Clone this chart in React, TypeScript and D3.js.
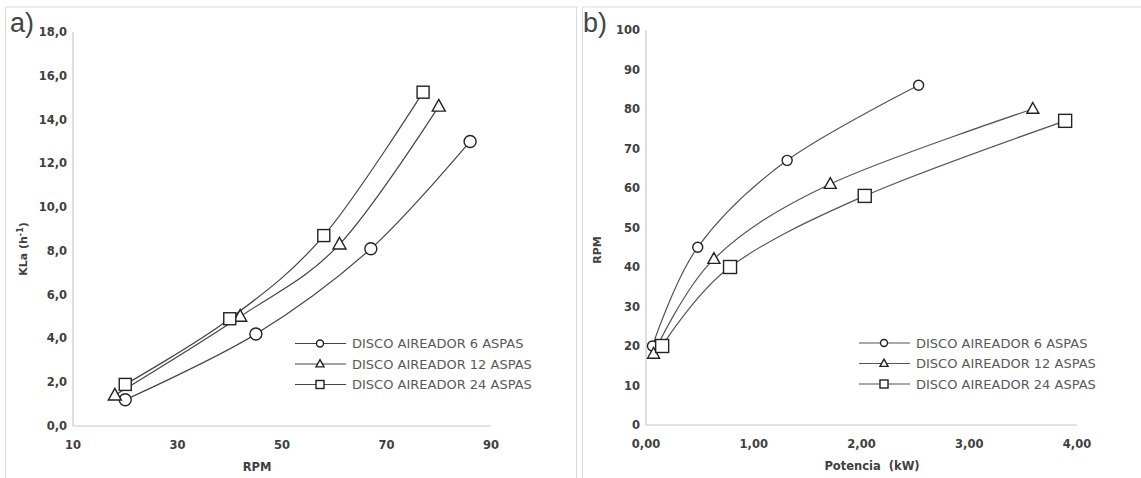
import React from "react";
import * as d3 from "d3";

// Panel a: KLa vs RPM
const seriesNames = ["DISCO AIREADOR 6 ASPAS", "DISCO AIREADOR 12 ASPAS", "DISCO AIREADOR 24 ASPAS"];
const markerTypes = ["circle", "triangle", "square"];

const rpm6 = [20, 45, 67, 86];
const kla6 = [1.2, 4.2, 8.1, 13.0];
const rpm12 = [18, 42, 61, 80];
const kla12 = [1.4, 5.0, 8.3, 14.6];
const rpm24 = [20, 40, 58, 77];
const kla24 = [1.9, 4.9, 8.7, 15.25];

// Panel b: RPM vs Potencia
const pot6 = [0.06, 0.48, 1.31, 2.53];
const pot12 = [0.07, 0.63, 1.71, 3.59];
const pot24 = [0.15, 0.78, 2.03, 3.89];

const aXTicks = [10, 30, 50, 70, 90];
const aYTicks = [0, 2, 4, 6, 8, 10, 12, 14, 16, 18];
const bXTicks = [0, 1, 2, 3, 4];
const bYTicks = [0, 10, 20, 30, 40, 50, 60, 70, 80, 90, 100];

const fmt1 = (v: number) => v.toFixed(1).replace(".", ",");
const fmt2 = (v: number) => v.toFixed(2).replace(".", ",");

function Marker({ type, x, y, s, stroke }: { type: string; x: number; y: number; s: number; stroke: string }) {
  if (type === "circle") return <circle cx={x} cy={y} r={s / 2} fill="#fff" stroke={stroke} strokeWidth={1.4} />;
  if (type === "square")
    return <rect x={x - s / 2} y={y - s / 2} width={s} height={s} fill="#fff" stroke={stroke} strokeWidth={1.4} />;
  const h = s * 0.9;
  const p = `M${x},${y - h * 0.6} L${x + s / 2},${y + h * 0.4} L${x - s / 2},${y + h * 0.4} Z`;
  return <path d={p} fill="#fff" stroke={stroke} strokeWidth={1.4} />;
}

type Panel = {
  x: d3.ScaleLinear<number, number>;
  y: d3.ScaleLinear<number, number>;
  xTicks: number[];
  yTicks: number[];
  xFmt: (v: number) => string;
  yFmt: (v: number) => string;
  series: { xs: number[]; ys: number[] }[];
  markerSizes: number[];
  lineColor: string;
  legendX: number;
  legendY: number;
  legendMarker: number[];
  xTitle: string;
  yTitle: React.ReactNode;
  xTitleX: number;
  xTitleY: number;
  yTitleX: number;
  yTitleY: number;
  label: string;
  labelX: number;
  frameX: number;
  frameW: number;
};

function ChartPanel({ p }: { p: Panel }) {
  const [x0, x1] = p.x.range();
  const [y0, y1] = p.y.range();
  const line = d3
    .line<[number, number]>()
    .x((d) => p.x(d[0]))
    .y((d) => p.y(d[1]))
    .curve(d3.curveCatmullRom.alpha(0));
  const tickFont = { fontFamily: "DejaVu Sans", fontWeight: 700, fontSize: 11.5, fill: "#404040" };
  return (
    <g>
      <rect x={p.frameX} y={7} width={p.frameW} height={480} fill="none" stroke="#d9d9d9" strokeWidth={1} />
      <text x={p.labelX} y={32} style={{ fontFamily: "Liberation Sans", fontSize: 27, fontWeight: 300, fill: "#444" }}>
        {p.label}
      </text>
      <line x1={x0} x2={x1} y1={y0} y2={y0} stroke="#c8c8c8" strokeWidth={1.2} />
      <line x1={x0} x2={x0} y1={y0} y2={y1} stroke="#c8c8c8" strokeWidth={1.2} />
      {p.yTicks.map((t) => (
        <text key={"y" + t} x={x0 - 6} y={p.y(t)} dy="0.35em" textAnchor="end" style={tickFont}>
          {p.yFmt(t)}
        </text>
      ))}
      {p.xTicks.map((t) => (
        <text key={"x" + t} x={p.x(t)} y={y0 + 19} dy="0.35em" textAnchor="middle" style={tickFont}>
          {p.xFmt(t)}
        </text>
      ))}
      <text x={p.xTitleX} y={p.xTitleY} dy="0.35em" textAnchor="middle" style={{ ...tickFont, fontSize: 11.5 }}>
        {p.xTitle}
      </text>
      <text
        transform={`translate(${p.yTitleX},${p.yTitleY}) rotate(-90)`}
        dy="0.35em"
        textAnchor="middle"
        style={{ ...tickFont, fontSize: 11 }}
      >
        {p.yTitle}
      </text>
      {p.series.map((s, i) => (
        <path
          key={"l" + i}
          d={line(s.xs.map((v, j) => [v, s.ys[j]] as [number, number])) || ""}
          fill="none"
          stroke={p.lineColor}
          strokeWidth={1.2}
        />
      ))}
      {p.series.map((s, i) =>
        s.xs.map((v, j) => (
          <Marker key={`m${i}-${j}`} type={markerTypes[i]} x={p.x(v)} y={p.y(s.ys[j])} s={p.markerSizes[i]} stroke="#222" />
        ))
      )}
      {seriesNames.map((n, i) => {
        const ly = p.legendY + i * 20.5;
        return (
          <g key={"lg" + i}>
            <line x1={p.legendX} x2={p.legendX + 51} y1={ly} y2={ly} stroke={p.lineColor} strokeWidth={1.2} />
            <Marker type={markerTypes[i]} x={p.legendX + 25} y={ly} s={p.legendMarker[i]} stroke="#222" />
            <text
              x={p.legendX + 57}
              y={ly}
              dy="0.36em"
              style={{ fontFamily: "DejaVu Sans", fontSize: 13, fill: "#595959" }}
            >
              {n}
            </text>
          </g>
        );
      })}
    </g>
  );
}

export default function App() {
  const panelA: Panel = {
    x: d3.scaleLinear().domain([10, 90]).range([73, 491]),
    y: d3.scaleLinear().domain([0, 18]).range([426, 32]),
    xTicks: aXTicks,
    yTicks: aYTicks,
    xFmt: (v) => String(v),
    yFmt: fmt1,
    series: [
      { xs: rpm6, ys: kla6 },
      { xs: rpm12, ys: kla12 },
      { xs: rpm24, ys: kla24 },
    ],
    markerSizes: [12, 13, 12],
    lineColor: "#444",
    legendX: 295,
    legendY: 343.5,
    legendMarker: [7, 8, 8],
    xTitle: "RPM",
    yTitle: (
      <>
        KLa (h<tspan dy="-4" fontSize={8}>-1</tspan>
        <tspan dy="4">)</tspan>
      </>
    ),
    xTitleX: 257,
    xTitleY: 467,
    yTitleX: 23,
    yTitleY: 249,
    label: "a)",
    labelX: 10,
    frameX: 5.5,
    frameW: 571,
  };
  const panelB: Panel = {
    x: d3.scaleLinear().domain([0, 4]).range([646, 1077]),
    y: d3.scaleLinear().domain([0, 100]).range([425, 30]),
    xTicks: bXTicks,
    yTicks: bYTicks,
    xFmt: fmt2,
    yFmt: (v) => String(v),
    series: [
      { xs: pot6, ys: rpm6 },
      { xs: pot12, ys: rpm12 },
      { xs: pot24, ys: rpm24 },
    ],
    markerSizes: [10, 12, 13],
    lineColor: "#555",
    legendX: 859,
    legendY: 343,
    legendMarker: [7, 8, 8],
    xTitle: "Potencia\u00a0\u00a0(kW)",
    yTitle: "RPM",
    xTitleX: 872,
    xTitleY: 466,
    yTitleX: 597,
    yTitleY: 250,
    label: "b)",
    labelX: 583,
    frameX: 582.5,
    frameW: 570,
  };
  return (
    <svg width={1141} height={478} style={{ position: "absolute", left: 0, top: 0, background: "#fff" }}>
      <rect width={1141} height={478} fill="#fff" />
      <ChartPanel p={panelA} />
      <ChartPanel p={panelB} />
    </svg>
  );
}
